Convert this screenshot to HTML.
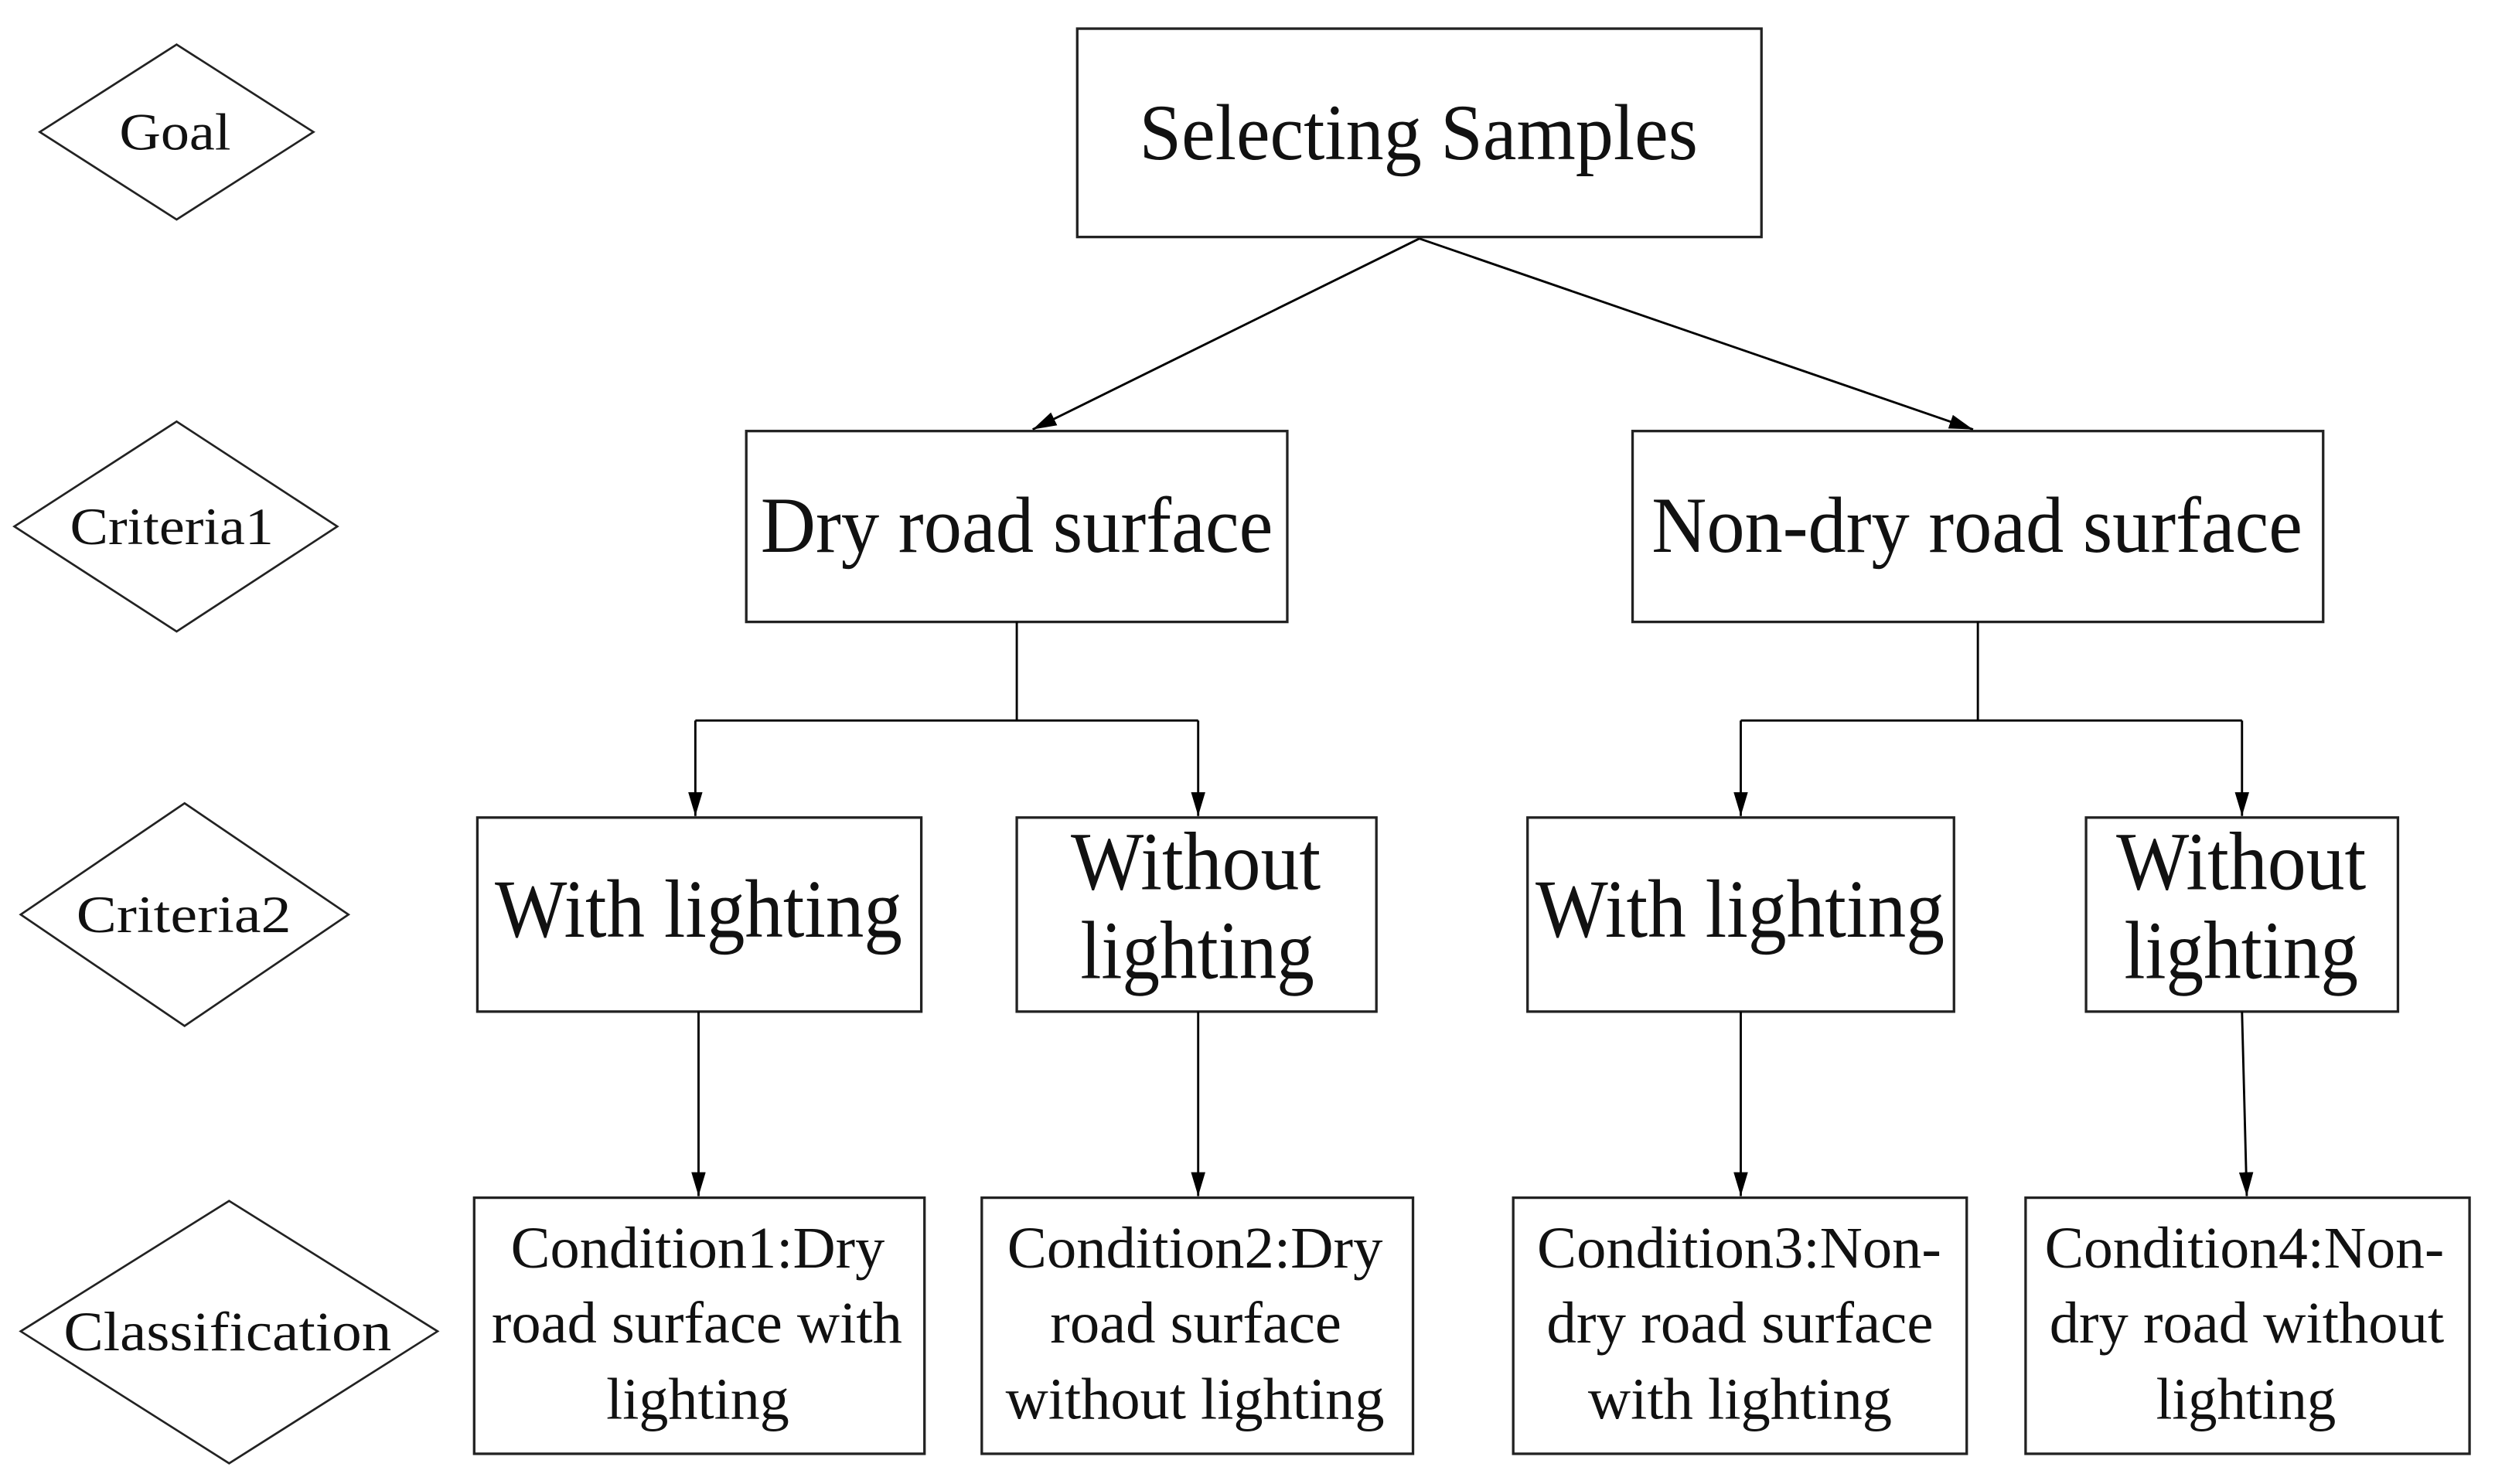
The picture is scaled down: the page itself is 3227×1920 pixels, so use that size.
<!DOCTYPE html>
<html><head><style>html,body{margin:0;padding:0;background:#fff;}svg{display:block}</style></head>
<body>
<svg width="3227" height="1920" viewBox="0 0 1568 933" preserveAspectRatio="none" xmlns="http://www.w3.org/2000/svg" font-family="'Liberation Serif', serif" fill="#111">
<defs>
<marker id="b" markerWidth="15" markerHeight="9" refX="15" refY="4.5" orient="auto" markerUnits="userSpaceOnUse" viewBox="0 0 15 9"><path d="M0,0 L15,4.5 L0,9 z" fill="#000"/></marker></defs>
<g fill="none" stroke="#222" stroke-width="1.3">
<polygon points="111,28 197,83 111,138 25,83"/>
<polygon points="111,265 212,331 111,397 9,331"/>
<polygon points="116,505 219,575 116,645 13,575"/>
<polygon points="144,755 275,837 144,920 13,837"/>
</g>
<g fill="#fff" stroke="#222" stroke-width="1.6">
<rect x="677" y="18" width="430" height="131"/>
<rect x="469" y="271" width="340" height="120"/>
<rect x="1026" y="271" width="434" height="120"/>
<rect x="300" y="514" width="279" height="122"/>
<rect x="639" y="514" width="226" height="122"/>
<rect x="960" y="514" width="268" height="122"/>
<rect x="1311" y="514" width="196" height="122"/>
<rect x="298" y="753" width="283" height="161"/>
<rect x="617" y="753" width="271" height="161"/>
<rect x="951" y="753" width="285" height="161"/>
<rect x="1273" y="753" width="279" height="161"/>
</g>
<g fill="none" stroke="#000" stroke-width="1.4">
<line x1="892" y1="150" x2="649" y2="270" marker-end="url(#b)"/>
<line x1="892" y1="150" x2="1240" y2="270" marker-end="url(#b)"/>
<polyline points="639,391 639,453"/><polyline points="437,453 753,453"/>
<line x1="437" y1="453" x2="437" y2="513" marker-end="url(#b)"/>
<line x1="753" y1="453" x2="753" y2="513" marker-end="url(#b)"/>
<polyline points="1243,391 1243,453"/><polyline points="1094,453 1409,453"/>
<line x1="1094" y1="453" x2="1094" y2="513" marker-end="url(#b)"/>
<line x1="1409" y1="453" x2="1409" y2="513" marker-end="url(#b)"/>
<line x1="439" y1="636" x2="439" y2="752" marker-end="url(#b)"/>
<line x1="753" y1="636" x2="753" y2="752" marker-end="url(#b)"/>
<line x1="1094" y1="636" x2="1094" y2="752" marker-end="url(#b)"/>
<line x1="1409" y1="636" x2="1412" y2="752" marker-end="url(#b)"/>
</g>
<g>
<text x="75" y="94" font-size="33" textLength="70" lengthAdjust="spacingAndGlyphs">Goal</text>
<text x="44" y="342" font-size="33" textLength="128" lengthAdjust="spacingAndGlyphs">Criteria1</text>
<text x="48" y="586" font-size="33" textLength="135" lengthAdjust="spacingAndGlyphs">Criteria2</text>
<text x="40" y="849" font-size="35" textLength="206" lengthAdjust="spacingAndGlyphs">Classification</text>
<text x="716" y="100" font-size="50" textLength="351" lengthAdjust="spacingAndGlyphs">Selecting Samples</text>
<text x="478" y="347" font-size="50" textLength="322" lengthAdjust="spacingAndGlyphs">Dry road surface</text>
<text x="1038" y="347" font-size="50" textLength="409" lengthAdjust="spacingAndGlyphs">Non-dry road surface</text>
<text x="311" y="589" font-size="52" textLength="256" lengthAdjust="spacingAndGlyphs">With lighting</text>
<text x="965" y="589" font-size="52" textLength="257" lengthAdjust="spacingAndGlyphs">With lighting</text>
<text x="673" y="559" font-size="52" textLength="157" lengthAdjust="spacingAndGlyphs">Without</text>
<text x="679" y="615" font-size="52" textLength="147" lengthAdjust="spacingAndGlyphs">lighting</text>
<text x="1330" y="559" font-size="52" textLength="157" lengthAdjust="spacingAndGlyphs">Without</text>
<text x="1335" y="615" font-size="52" textLength="147" lengthAdjust="spacingAndGlyphs">lighting</text>
<g font-size="37">
<text x="321" y="797" textLength="235" lengthAdjust="spacingAndGlyphs">Condition1:Dry</text>
<text x="309" y="844" textLength="258" lengthAdjust="spacingAndGlyphs">road surface with</text>
<text x="381" y="892" textLength="115" lengthAdjust="spacingAndGlyphs">lighting</text>
<text x="633" y="797" textLength="236" lengthAdjust="spacingAndGlyphs">Condition2:Dry</text>
<text x="660" y="844" textLength="183" lengthAdjust="spacingAndGlyphs">road surface</text>
<text x="632" y="892" textLength="238" lengthAdjust="spacingAndGlyphs">without lighting</text>
<text x="966" y="797" textLength="254" lengthAdjust="spacingAndGlyphs">Condition3:Non-</text>
<text x="972" y="844" textLength="243" lengthAdjust="spacingAndGlyphs">dry road surface</text>
<text x="998" y="892" textLength="191" lengthAdjust="spacingAndGlyphs">with lighting</text>
<text x="1285" y="797" textLength="251" lengthAdjust="spacingAndGlyphs">Condition4:Non-</text>
<text x="1288" y="844" textLength="248" lengthAdjust="spacingAndGlyphs">dry road without</text>
<text x="1355" y="892" textLength="113" lengthAdjust="spacingAndGlyphs">lighting</text>
</g>
</g>
</svg>
</body></html>
